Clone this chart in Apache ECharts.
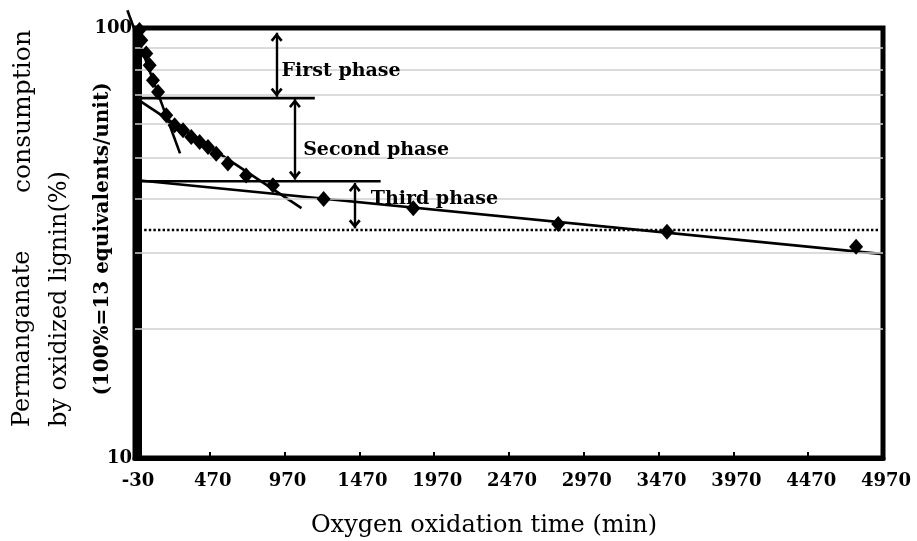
<!DOCTYPE html>
<html>
<head>
<meta charset="utf-8">
<script src="https://cdn.jsdelivr.net/npm/echarts@6/dist/echarts.min.js"></script>
<style>
    html, body { margin: 0; padding: 0; background: #fff; }
    #main { width: 917px; height: 541px; }
</style>
</head>
<body>
<div id="main"></div>
<script>
// measured points (min, %)
const times = [0, 12, 45, 68, 90, 124, 179, 235, 291, 346, 402, 458, 513, 591, 713, 892, 1231, 1830, 2799, 3526, 4790];
const consumption = [99, 93.6, 87.2, 81.9, 75.6, 71.0, 62.7, 59.4, 57.8, 55.8, 54.3, 52.9, 51.0, 48.4, 45.4, 43.1, 40.0, 38.1, 35.0, 33.6, 31.0];

// fitted lines for each phase
const firstPhaseFit = [[-81, 110], [271, 51.1]];
const secondPhaseFit = [[-20, 68.5], [1083, 38.1]];
const thirdPhaseFit = [[-30, 44.3], [4970, 29.8]];

// phase boundaries
const firstBoundary = [[-30, 68.7], [1172, 68.7]];
const secondBoundary = [[-30, 44.0], [1612, 44.0]];
const thirdBoundary = [[-30, 33.9], [4939, 33.9]];

// double arrows: [time, upper, lower]
const phaseArrows = [[917, 97.5, 69.2], [1039, 68.4, 44.4], [1439, 43.6, 34.2]];
const phaseNames = ['First phase', 'Second phase', 'Third phase'];
const phaseLabelAt = [[950, 79.4], [1094, 51.9], [1546, 40.1]];

const xTicks = { min: -30, max: 4970, interval: 500 };
const yGrid = [20, 30, 40, 50, 60, 70, 80, 90];

const serif = 'DejaVu Serif';
// tip of the arrow sits at the centre of the symbol box
const arrowHead = 'path://M5.5,0L5.5,0.01Z M0,16.2L5.5,9L11,16.2L9.1,18L5.5,13.1L1.9,18Z';

let myChart = echarts.init(document.getElementById('main'));

function segment (pair) {
    return [pair[0][0], pair[0][1], pair[1][0], pair[1][1]];
}

// straight segments drawn through the axes, not clipped to the grid
function segmentSeries (pairs, dash) {
    return {
        type: 'custom',
        data: pairs.map(segment),
        encode: { x: [0, 2], y: [1, 3] },
        silent: true,
        clip: false,
        z: 3,
        renderItem: function (params, api) {
            const p1 = api.coord([api.value(0), api.value(1)]);
            const p2 = api.coord([api.value(2), api.value(3)]);
            return {
                type: 'line',
                shape: { x1: p1[0], y1: p1[1], x2: p2[0], y2: p2[1] },
                style: {
                    stroke: '#000',
                    lineWidth: dash ? 2.4 : 2.6,
                    lineDash: dash || null,
                    fill: null
                }
            };
        }
    };
}

let option = {
    animation: false,
    backgroundColor: '#fff',
    grid: {
        left: 135,
        right: 34,
        top: 28,
        bottom: 83,
        show: true,
        borderColor: '#000',
        borderWidth: 5,
        backgroundColor: 'transparent'
    },
    xAxis: {
        type: 'value',
        min: xTicks.min,
        max: xTicks.max,
        interval: xTicks.interval,
        axisLine: { show: true, lineStyle: { color: '#000', width: 5 } },
        axisTick: { show: true, inside: true, length: 6, lineStyle: { color: '#000', width: 2 } },
        splitLine: { show: false },
        axisLabel: {
            color: '#000',
            fontFamily: serif,
            fontWeight: 'bold',
            fontSize: 18,
            margin: 14,
            padding: [0, 0, 0, 6],
            formatter: v => String(v)
        }
    },
    yAxis: {
        type: 'log',
        logBase: 10,
        min: 10,
        max: 100,
        axisLine: { show: true, lineStyle: { color: '#000', width: 5 } },
        axisTick: { show: false },
        splitLine: { show: false },
        minorSplitLine: { show: false },
        axisLabel: {
            color: '#000',
            fontFamily: serif,
            fontWeight: 'bold',
            fontSize: 18,
            margin: 3,
            padding: [10, 0, 0, 0],
            formatter: v => String(v)
        }
    },
    series: [
        {
            // light horizontal grid
            type: 'line',
            data: [],
            silent: true,
            z: 1,
            markLine: {
                silent: true,
                symbol: 'none',
                label: { show: false },
                lineStyle: { color: '#cfcfcf', width: 1.6, type: 'solid' },
                data: yGrid.map(v => ({ yAxis: v }))
            }
        },
        segmentSeries([firstPhaseFit, secondPhaseFit, thirdPhaseFit, firstBoundary, secondBoundary]),
        segmentSeries([thirdBoundary], [2.4, 2.2]),
        {
            type: 'scatter',
            data: times.map((t, i) => [t, consumption[i]]),
            symbol: 'diamond',
            symbolSize: [14, 16],
            itemStyle: { color: '#000', opacity: 1 },
            z: 5
        },
        {
            // arrows between phase levels
            type: 'line',
            data: [],
            silent: true,
            z: 4,
            markLine: {
                silent: true,
                symbol: [arrowHead, arrowHead],
                symbolSize: [12, 18],
                label: { show: false },
                lineStyle: { color: '#000', width: 2.4, type: 'solid', opacity: 1 },
                data: phaseArrows.map(a => [
                    { coord: [a[0], a[1]] },
                    { coord: [a[0], a[2]] }
                ])
            }
        },
        {
            type: 'scatter',
            data: phaseLabelAt.map((p, i) => ({ name: phaseNames[i], value: p })),
            symbolSize: 0,
            silent: true,
            z: 6,
            itemStyle: { opacity: 1 },
            label: {
                show: true,
                position: 'right',
                distance: 0,
                formatter: '{b}',
                color: '#000',
                opacity: 1,
                fontFamily: serif,
                fontWeight: 'bold',
                fontSize: 19
            }
        }
    ],
    graphic: [
        {
            type: 'text',
            x: 484,
            y: 526,
            style: {
                text: 'Oxygen oxidation time (min)',
                font: '24px "DejaVu Serif"',
                fill: '#000',
                align: 'center',
                verticalAlign: 'middle'
            }
        },
        {
            type: 'text',
            x: 23,
            y: 427,
            rotation: Math.PI / 2,
            style: {
                text: 'Permanganate',
                font: '24px "DejaVu Serif"',
                fill: '#000',
                align: 'left',
                verticalAlign: 'middle'
            }
        },
        {
            type: 'text',
            x: 23,
            y: 30,
            rotation: Math.PI / 2,
            style: {
                text: 'consumption',
                font: '25px "DejaVu Serif"',
                fill: '#000',
                align: 'right',
                verticalAlign: 'middle'
            }
        },
        {
            type: 'text',
            x: 60,
            y: 427,
            rotation: Math.PI / 2,
            style: {
                text: 'by oxidized lignin(%)',
                font: '24px "DejaVu Serif"',
                fill: '#000',
                align: 'left',
                verticalAlign: 'middle'
            }
        },
        {
            type: 'text',
            x: 103,
            y: 239,
            rotation: Math.PI / 2,
            style: {
                text: '(100%=13 equivalents/unit)',
                font: 'bold 20px "DejaVu Serif"',
                fill: '#000',
                align: 'center',
                verticalAlign: 'middle'
            }
        }
    ]
};

myChart.setOption(option);
</script>
</body>
</html>
